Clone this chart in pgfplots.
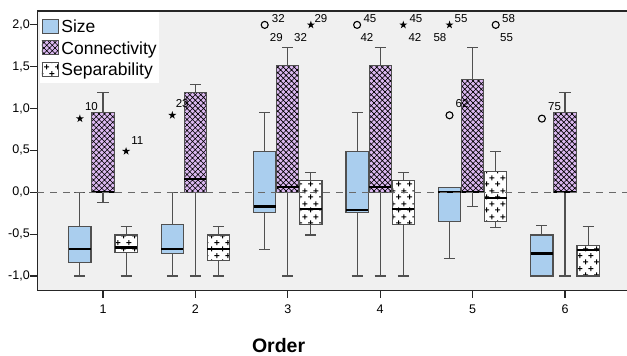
\documentclass[border=0pt]{standalone}
\usepackage{pgfplots}
\pgfplotsset{compat=1.18}
\usepgfplotslibrary{statistics}
\usetikzlibrary{patterns,patterns.meta}
\usepackage{fontspec}
\setmainfont{Liberation Sans}
\definecolor{sizecol}{RGB}{170,206,238}
\definecolor{concol}{RGB}{219,184,240}
\definecolor{bgcol}{RGB}{240,240,240}
\definecolor{edgecol}{RGB}{80,80,80}
\definecolor{dashcol}{RGB}{105,105,105}

\tikzdeclarepattern{
  name=mycross, type=uncolored,
  bounding box={(-1pt,-1pt) and (6.5pt,6.5pt)},
  tile size={(5.5pt,5.5pt)},
  code={\draw[line width=0.7pt] (-0.5pt,-0.5pt) -- (6pt,6pt) (-0.5pt,6pt) -- (6pt,-0.5pt);}
}
\tikzdeclarepattern{
  name=myplus, type=uncolored,
  bounding box={(0pt,0pt) and (11pt,13pt)},
  tile size={(11pt,13pt)},
  code={\draw[line width=1.1pt] (0.1pt,3.25pt) -- (5.4pt,3.25pt) (2.75pt,0.6pt) -- (2.75pt,5.9pt)
        (5.6pt,9.75pt) -- (10.9pt,9.75pt) (8.25pt,7.1pt) -- (8.25pt,12.4pt);}
}

\pgfdeclareplotmark{fstar}{%
  \pgfpathmoveto{\pgfpointpolar{90}{\pgfplotmarksize}}%
  \pgfpathlineto{\pgfpointpolar{126}{0.38\pgfplotmarksize}}%
  \pgfpathlineto{\pgfpointpolar{162}{\pgfplotmarksize}}%
  \pgfpathlineto{\pgfpointpolar{198}{0.38\pgfplotmarksize}}%
  \pgfpathlineto{\pgfpointpolar{234}{\pgfplotmarksize}}%
  \pgfpathlineto{\pgfpointpolar{270}{0.38\pgfplotmarksize}}%
  \pgfpathlineto{\pgfpointpolar{306}{\pgfplotmarksize}}%
  \pgfpathlineto{\pgfpointpolar{342}{0.38\pgfplotmarksize}}%
  \pgfpathlineto{\pgfpointpolar{18}{\pgfplotmarksize}}%
  \pgfpathlineto{\pgfpointpolar{54}{0.38\pgfplotmarksize}}%
  \pgfpathclose
  \pgfusepathqfill}

\pgfplotsset{
  common/.style={
    boxplot/draw direction=y,
    boxplot/box extend=0.24,
    boxplot/whisker extend=0.12,
    boxplot/every whisker/.style={draw=edgecol, line width=1.1pt},
    boxplot/every median/.style={draw=black, line width=2.3pt},
  },
  sizebox/.style={common, boxplot/every box/.style={draw=edgecol, line width=1.1pt, fill=sizecol}},
  conbox/.style={common, boxplot/every box/.style={draw=edgecol, line width=1.1pt, fill=concol, postaction={pattern=mycross}}},
  sepbox/.style={common, boxplot/every box/.style={draw=edgecol, line width=1.1pt, fill=white, postaction={pattern=myplus}}},
}
\tikzset{lab/.style={font=\fontsize{11.5}{13}\selectfont, inner sep=0pt, anchor=west}}

\begin{document}
\begin{tikzpicture}
\useasboundingbox (-37.3pt,-65.3pt) rectangle (589.7pt,290.7pt);
\begin{axis}[
  scale only axis, width=589.7pt, height=279.7pt,
  xmin=0.289, xmax=6.671, ymin=-1.176, ymax=2.166,
  axis x line*=bottom, axis y line*=left,
  axis line style={draw=black!85, line width=1.2pt, -},
  axis background/.style={fill=bgcol},
  xtick={1,2,3,4,5,6}, ytick={-1,-0.5,0,0.5,1,1.5,2},
  tick align=outside, major tick length=7pt,
  tick style={draw=black!85, line width=1.2pt},
  tick label style={font=\fontsize{12.5}{14}\selectfont},
  /pgf/number format/assume math mode=true,
  xticklabel style={yshift=-4pt},
  yticklabel style={xshift=3pt, /pgf/number format/.cd, fixed, fixed zerofill, precision=1, use comma},
  clip=false,
  legend cell align=left,
  legend style={at={(rel axis cs:0.0034,0.9954)}, anchor=north west, draw=none, fill=white,
    inner xsep=2pt, inner ysep=3pt, row sep=0.4pt, column sep=2.3pt,
    font=\fontsize{17.5}{20}\selectfont,
    nodes={inner sep=0pt, text height=17pt, text depth=4.2pt}},
]
\addlegendimage{legend image code/.code={\draw[draw=edgecol, line width=0.9pt, fill=sizecol] (0pt,-7pt) rectangle (16.7pt,7pt);}}
\addlegendentry{Size}
\addlegendimage{legend image code/.code={\draw[draw=edgecol, line width=0.9pt, fill=concol, postaction={pattern=mycross}] (0pt,-7pt) rectangle (16.7pt,7pt);}}
\addlegendentry{Connectivity}
\addlegendimage{legend image code/.code={\draw[draw=edgecol, line width=0.9pt, fill=white, postaction={pattern=myplus}] (0pt,-7pt) rectangle (16.7pt,7pt);}}
\addlegendentry{Separability}

% Order 1
\addplot[sizebox, boxplot prepared={draw position=0.75, lower whisker=-1, lower quartile=-0.84, median=-0.68, upper quartile=-0.41, upper whisker=0}] coordinates {};
\addplot[conbox, boxplot prepared={draw position=1, lower whisker=-0.12, lower quartile=0, median=0, upper quartile=0.95, upper whisker=1.19}] coordinates {};
\addplot[sepbox, boxplot prepared={draw position=1.25, lower whisker=-1, lower quartile=-0.72, median=-0.66, upper quartile=-0.51, upper whisker=-0.41}] coordinates {};
% Order 2
\addplot[sizebox, boxplot prepared={draw position=1.75, lower whisker=-1, lower quartile=-0.73, median=-0.68, upper quartile=-0.39, upper whisker=0}] coordinates {};
\addplot[conbox, boxplot prepared={draw position=2, lower whisker=-1, lower quartile=0, median=0.155, upper quartile=1.19, upper whisker=1.29}] coordinates {};
\addplot[sepbox, boxplot prepared={draw position=2.25, lower whisker=-1, lower quartile=-0.81, median=-0.68, upper quartile=-0.51, upper whisker=-0.41}] coordinates {};
% Order 3
\addplot[sizebox, boxplot prepared={draw position=2.75, lower whisker=-0.68, lower quartile=-0.24, median=-0.17, upper quartile=0.49, upper whisker=0.95}] coordinates {};
\addplot[conbox, boxplot prepared={draw position=3, lower whisker=-1, lower quartile=0, median=0.06, upper quartile=1.52, upper whisker=1.73}] coordinates {};
\addplot[sepbox, boxplot prepared={draw position=3.25, lower whisker=-0.51, lower quartile=-0.38, median=-0.20, upper quartile=0.14, upper whisker=0.24}] coordinates {};
% Order 4
\addplot[sizebox, boxplot prepared={draw position=3.75, lower whisker=-1, lower quartile=-0.24, median=-0.21, upper quartile=0.49, upper whisker=0.95}] coordinates {};
\addplot[conbox, boxplot prepared={draw position=4, lower whisker=-1, lower quartile=0, median=0.06, upper quartile=1.52, upper whisker=1.73}] coordinates {};
\addplot[sepbox, boxplot prepared={draw position=4.25, lower whisker=-1, lower quartile=-0.38, median=-0.20, upper quartile=0.14, upper whisker=0.24}] coordinates {};
% Order 5
\addplot[sizebox, boxplot prepared={draw position=4.75, lower whisker=-0.79, lower quartile=-0.35, median=0, upper quartile=0.06, upper whisker=0.06}] coordinates {};
\addplot[conbox, boxplot prepared={draw position=5, lower whisker=-0.17, lower quartile=0, median=0, upper quartile=1.35, upper whisker=1.73}] coordinates {};
\addplot[sepbox, boxplot prepared={draw position=5.25, lower whisker=-0.42, lower quartile=-0.35, median=-0.07, upper quartile=0.25, upper whisker=0.49}] coordinates {};
% Order 6
\addplot[sizebox, boxplot prepared={draw position=5.75, lower whisker=-1, lower quartile=-1, median=-0.73, upper quartile=-0.51, upper whisker=-0.40}] coordinates {};
\addplot[conbox, boxplot prepared={draw position=6, lower whisker=-1, lower quartile=0, median=0, upper quartile=0.95, upper whisker=1.19}] coordinates {};
\addplot[sepbox, boxplot prepared={draw position=6.25, lower whisker=-1, lower quartile=-1, median=-0.69, upper quartile=-0.64, upper whisker=-0.41}] coordinates {};

% outliers
\addplot[only marks, mark=o, mark size=3.5pt, draw=black, line width=1.1pt]
  coordinates {(2.75,2.0) (3.75,2.0) (4.75,0.92) (5.25,2.0) (5.75,0.88)};
\addplot[only marks, mark=fstar, mark size=4.2pt, fill=black, draw=none]
  coordinates {(0.75,0.88) (1.25,0.49) (1.75,0.92) (3.25,2.0) (4.25,2.0) (4.75,2.0)};

% reference line
\draw[dashcol, line width=1.4pt, dash pattern=on 7pt off 6pt] (axis cs:0.289,0) -- (axis cs:6.671,0);
\draw[black!85, line width=1.2pt] (rel axis cs:0,1) -- (rel axis cs:1,1);

% outlier labels
\node[lab, xshift=5pt, yshift=11.6pt] at (axis cs:0.75,0.88) {10};
\node[lab, xshift=5pt, yshift=11pt] at (axis cs:1.25,0.49) {11};
\node[lab, xshift=3.3pt, yshift=11.7pt] at (axis cs:1.75,0.92) {23};
\node[lab, xshift=7pt, yshift=6pt] at (axis cs:2.75,2.0) {32};
\node[lab, xshift=5pt, yshift=-13pt] at (axis cs:2.75,2.0) {29};
\node[lab, xshift=3.5pt, yshift=6pt] at (axis cs:3.25,2.0) {29};
\node[lab, anchor=east, xshift=-3.7pt, yshift=-13pt] at (axis cs:3.25,2.0) {32};
\node[lab, xshift=6.3pt, yshift=6pt] at (axis cs:3.75,2.0) {45};
\node[lab, xshift=3.3pt, yshift=-13pt] at (axis cs:3.75,2.0) {42};
\node[lab, xshift=6pt, yshift=6pt] at (axis cs:4.25,2.0) {45};
\node[lab, xshift=5pt, yshift=-13pt] at (axis cs:4.25,2.0) {42};
\node[lab, xshift=6pt, yshift=11.7pt] at (axis cs:4.75,0.92) {62};
\node[lab, xshift=5pt, yshift=6pt] at (axis cs:4.75,2.0) {55};
\node[lab, anchor=east, xshift=-3pt, yshift=-13pt] at (axis cs:4.75,2.0) {58};
\node[lab, xshift=6.3pt, yshift=6pt] at (axis cs:5.25,2.0) {58};
\node[lab, xshift=4.3pt, yshift=-13pt] at (axis cs:5.25,2.0) {55};
\node[lab, xshift=6pt, yshift=11.6pt] at (axis cs:5.75,0.88) {75};

\node[anchor=base, font=\bfseries\fontsize{19.5}{22}\selectfont, yshift=-62pt] at (axis cs:2.9,-1.176) {Order};
\end{axis}
\end{tikzpicture}
\end{document}
